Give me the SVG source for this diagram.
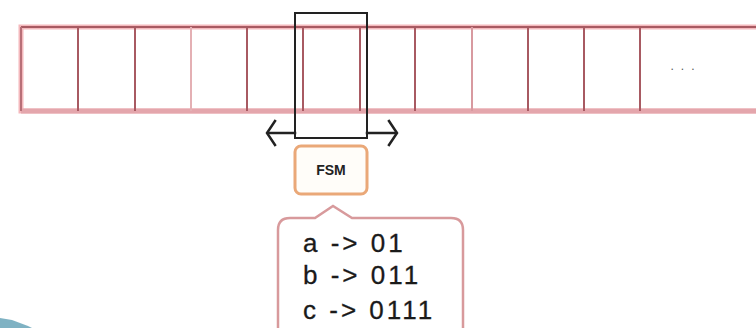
<svg xmlns="http://www.w3.org/2000/svg" width="756" height="328" viewBox="0 0 756 328">
  <style>
    .cell { stroke: #a85a62; stroke-width: 2; fill: none; }
    .halo { stroke: #f4b8bc; stroke-width: 5; fill: none; }
    .arrow { stroke: #222; stroke-width: 2.5; fill: none; stroke-linecap: square; }
    .map { font-family: "Liberation Sans", Arial, sans-serif; font-size: 26px; fill: #1a1a1a; letter-spacing: 3px; stroke: #1a1a1a; stroke-width: 0.3px; }
  </style>
  <rect width="756" height="328" fill="#ffffff"/>
  <g id="tape">
    <rect x="21" y="27" width="760" height="84" fill="#ffffff" class="halo"/>
    <line x1="21" y1="27" x2="756" y2="27" class="cell"/>
    <line x1="21" y1="111" x2="756" y2="111" stroke="#e4a6ac" stroke-width="5"/>
    <line x1="21" y1="27" x2="21" y2="111" stroke="#b87078" stroke-width="2"/>
    <g class="cell">
      <line x1="78" y1="27" x2="78" y2="111"/>
      <line x1="135" y1="27" x2="135" y2="111"/>
      <line x1="191" y1="27" x2="191" y2="111" stroke="#e4b0b4"/>
      <line x1="247" y1="27" x2="247" y2="111"/>
      <line x1="303" y1="27" x2="303" y2="111"/>
      <line x1="360" y1="27" x2="360" y2="111"/>
      <line x1="415" y1="27" x2="415" y2="111"/>
      <line x1="472" y1="27" x2="472" y2="111" stroke="#d89aa0"/>
      <line x1="528" y1="27" x2="528" y2="111"/>
      <line x1="584" y1="27" x2="584" y2="111"/>
      <line x1="640" y1="27" x2="640" y2="111"/>
    </g>
    <text x="686" y="70" font-family="'Liberation Sans', Arial, sans-serif" font-size="12" fill="#555" letter-spacing="7" text-anchor="middle">...</text>
  </g>
  <g id="head">
    <rect x="295" y="13" width="72" height="125" fill="none" stroke="#222" stroke-width="2"/>
  </g>
  <g id="connectors">
    <line x1="295" y1="133" x2="268" y2="133" class="arrow"/>
    <polyline points="275,121 267,133 275,145" class="arrow"/>
    <line x1="367" y1="133" x2="396" y2="133" class="arrow"/>
    <polyline points="389,121 397,133 389,145" class="arrow"/>
  </g>
  <g id="fsm">
    <rect x="295" y="146" width="72" height="48" rx="6" fill="#fffdf9" stroke="#eaa878" stroke-width="3"/>
    <text x="331" y="175" font-family="'Liberation Sans', Arial, sans-serif" font-size="14" font-weight="bold" fill="#222" text-anchor="middle">FSM</text>
  </g>
  <g id="mapping">
    <path d="M 290 218 L 315 218 L 333 206 L 352 218 L 451 218 Q 463 218 463 230 L 463 340 L 278 340 L 278 230 Q 278 218 290 218 Z" fill="#ffffff" stroke="#d89a9c" stroke-width="2.5"/>
    <text class="map" x="303" y="252">a -&gt; 01</text>
    <text class="map" x="303" y="284">b -&gt; 011</text>
    <text class="map" x="303" y="319">c -&gt; 0111</text>
  </g>
  <polygon points="0,318 12,320 28,326 32,328 0,328" fill="#5f9fb4" opacity="0.8"/>
</svg>
